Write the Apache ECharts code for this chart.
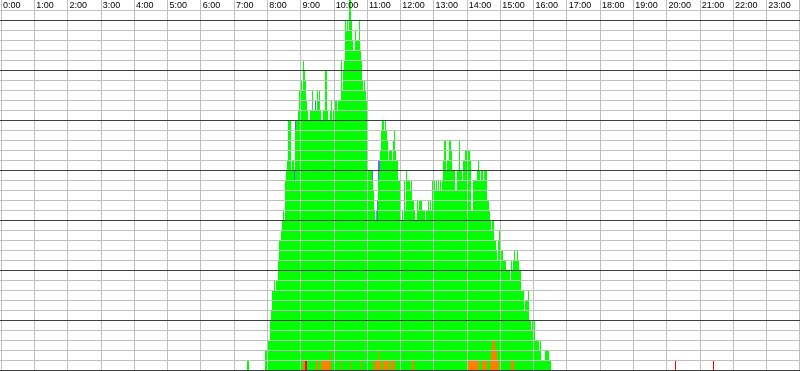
<!DOCTYPE html>
<html><head><meta charset="utf-8">
<script src="https://cdn.jsdelivr.net/npm/echarts@6/dist/echarts.min.js"></script>
<style>html,body{margin:0;padding:0;background:#fff}#c{width:800px;height:371px}</style>
</head><body><div id="c"></div><script>
// Tick labels (hours)
const hourLabels = ['0:00','1:00','2:00','3:00','4:00','5:00','6:00','7:00','8:00','9:00','10:00','11:00',
  '12:00','13:00','14:00','15:00','16:00','17:00','18:00','19:00','20:00','21:00','22:00','23:00'];
// The day is split into 800 time columns (1.8 minutes each)
const columnCount = 800;
const firstColumn = 246;
// Total count per column, starting at firstColumn
const totals = [
0,1,1,0,0,0,0,0,0,0,0,0,0,0,0,0,0,0,0,
2,2,2,3,3,5,6,8,8,9,
8,9,9,11,13,13,14,15,16,15,
19,20,21,25,25,25,20,21,21,20,
25,25,25,26,28,26,29,28,31,30,
29,27,26,25,25,26,26,28,26,26,
27,26,28,27,28,26,25,25,26,26,
30,30,26,25,25,26,27,25,26,26,
27,27,26,27,27,27,31,28,30,31,
35,34,35,34,37,37,35,33,32,32,
34,33,33,33,35,32,31,29,28,29,
28,27,26,20,20,20,20,20,18,16,
15,16,17,21,21,22,24,25,25,24,
25,24,23,21,22,22,22,21,23,24,
22,21,21,19,19,15,15,16,15,19,
16,20,19,19,19,18,19,17,17,16,
15,15,17,16,17,17,17,16,16,16,
15,16,16,17,16,17,16,19,18,19,
18,19,18,19,18,19,18,19,21,23,
23,20,21,21,23,23,22,20,20,20,
18,18,20,20,23,20,20,19,21,21,
22,22,21,22,22,21,16,16,19,19,
19,19,20,21,20,19,20,20,19,20,
20,20,17,17,16,15,14,15,15,13,
13,12,11,13,14,12,12,12,11,11,
11,10,10,10,10,9,11,10,11,12,
11,11,12,11,10,10,8,8,8,6,
7,7,7,8,5,5,4,5,5,5,
3,3,3,3,2,3,1,1,1,1,
2,2,2,2,1,1
];
// [column, count] for the coloured parts
const orangeParts = [[303,1],[304,1],[316,1],[317,1],[321,1],[322,1],[323,1],[324,1],[325,1],[326,1],[327,1],[328,1],[329,1],[330,2],
  [341,1],[351,1],[361,1],[372,1],[374,1],[376,1],[377,1],[378,1],[379,2],[380,1],
  [383,1],[384,1],[385,1],[386,1],[387,1],[388,1],[390,1],[392,1],[393,1],[394,1],[412,1],[413,1],
  [468,1],[469,1],[470,1],[471,1],[472,1],[473,1],[474,1],[475,1],[476,1],[477,1],[478,1],
  [482,1],[483,1],[484,1],[485,1],[486,1],
  [490,1],[491,2],[492,3],[493,3],[494,3],[495,2],[496,2],[497,1],[498,1],[511,1],[512,1],[513,1]];
const redParts = [[305,1],[306,1],[675,1],[713,1]];
const blueParts = [[294,1],[295,1],[315,1],[372,1],[377,2],[378,2],[379,1]];

const cats = Array.from({length: columnCount}, (_, i) => String(i));
function fromParts(parts){ const a = new Array(columnCount).fill(0); parts.forEach(p => a[p[0]] = p[1]); return a; }
const total = new Array(columnCount).fill(0);
totals.forEach((v, i) => total[firstColumn + i] = v);
const orange = fromParts(orangeParts), red = fromParts(redParts), blue = fromParts(blueParts);
const green = total.map((t, i) => Math.max(0, t - orange[i] - red[i] - blue[i]));

const yLineColors = [];
for (let v = 0; v <= 37; v++) yLineColors.push(v === 37 ? 'rgba(0,0,0,0)' : (v % 5 === 0 ? '#404040' : '#c0c0c0'));

const chart = echarts.init(document.getElementById('c'), null, {renderer: 'canvas'});
const barBase = {type: 'bar', stack: 'a', xAxisIndex: 0, yAxisIndex: 0, barCategoryGap: '0%', barGap: '0%', silent: true};
chart.setOption({
  animation: false,
  backgroundColor: '#ffffff',
  grid: [{left: 0, right: 0, top: 0, bottom: 1}, {left: -0.4, right: 0.4, top: 0, bottom: 1}],
  xAxis: [
    {type: 'category', gridIndex: 0, data: cats, show: false},
    {type: 'value', gridIndex: 1, min: 0, max: 24, interval: 1, position: 'top', z: 10,
     axisLine: {show: false}, axisTick: {show: false},
     splitLine: {show: true, lineStyle: {color: '#c0c0c0', width: 1}},
     axisLabel: {inside: true, margin: 1, align: 'left', verticalAlign: 'top', padding: [0, 0, 0, 2],
       fontSize: 9, fontFamily: 'Liberation Sans', color: '#000', showMaxLabel: false,
       formatter: v => hourLabels[v] || ''}}
  ],
  yAxis: [
    {type: 'value', gridIndex: 0, min: 0, max: 37, interval: 1, z: 11,
     axisLine: {show: false}, axisTick: {show: false}, axisLabel: {show: false},
     splitLine: {show: true, lineStyle: {color: yLineColors, width: 1}}},
    {type: 'value', gridIndex: 1, show: false, min: 0, max: 1}
  ],
  series: [
    Object.assign({name: 'orange', data: orange, itemStyle: {color: '#ff8000'}}, barBase),
    Object.assign({name: 'red', data: red, itemStyle: {color: '#ff0000'}}, barBase),
    Object.assign({name: 'green', data: green, itemStyle: {color: '#00ff00'}}, barBase),
    Object.assign({name: 'blue', data: blue, itemStyle: {color: '#6464ff'}}, barBase)
  ]
});
</script></body></html>
